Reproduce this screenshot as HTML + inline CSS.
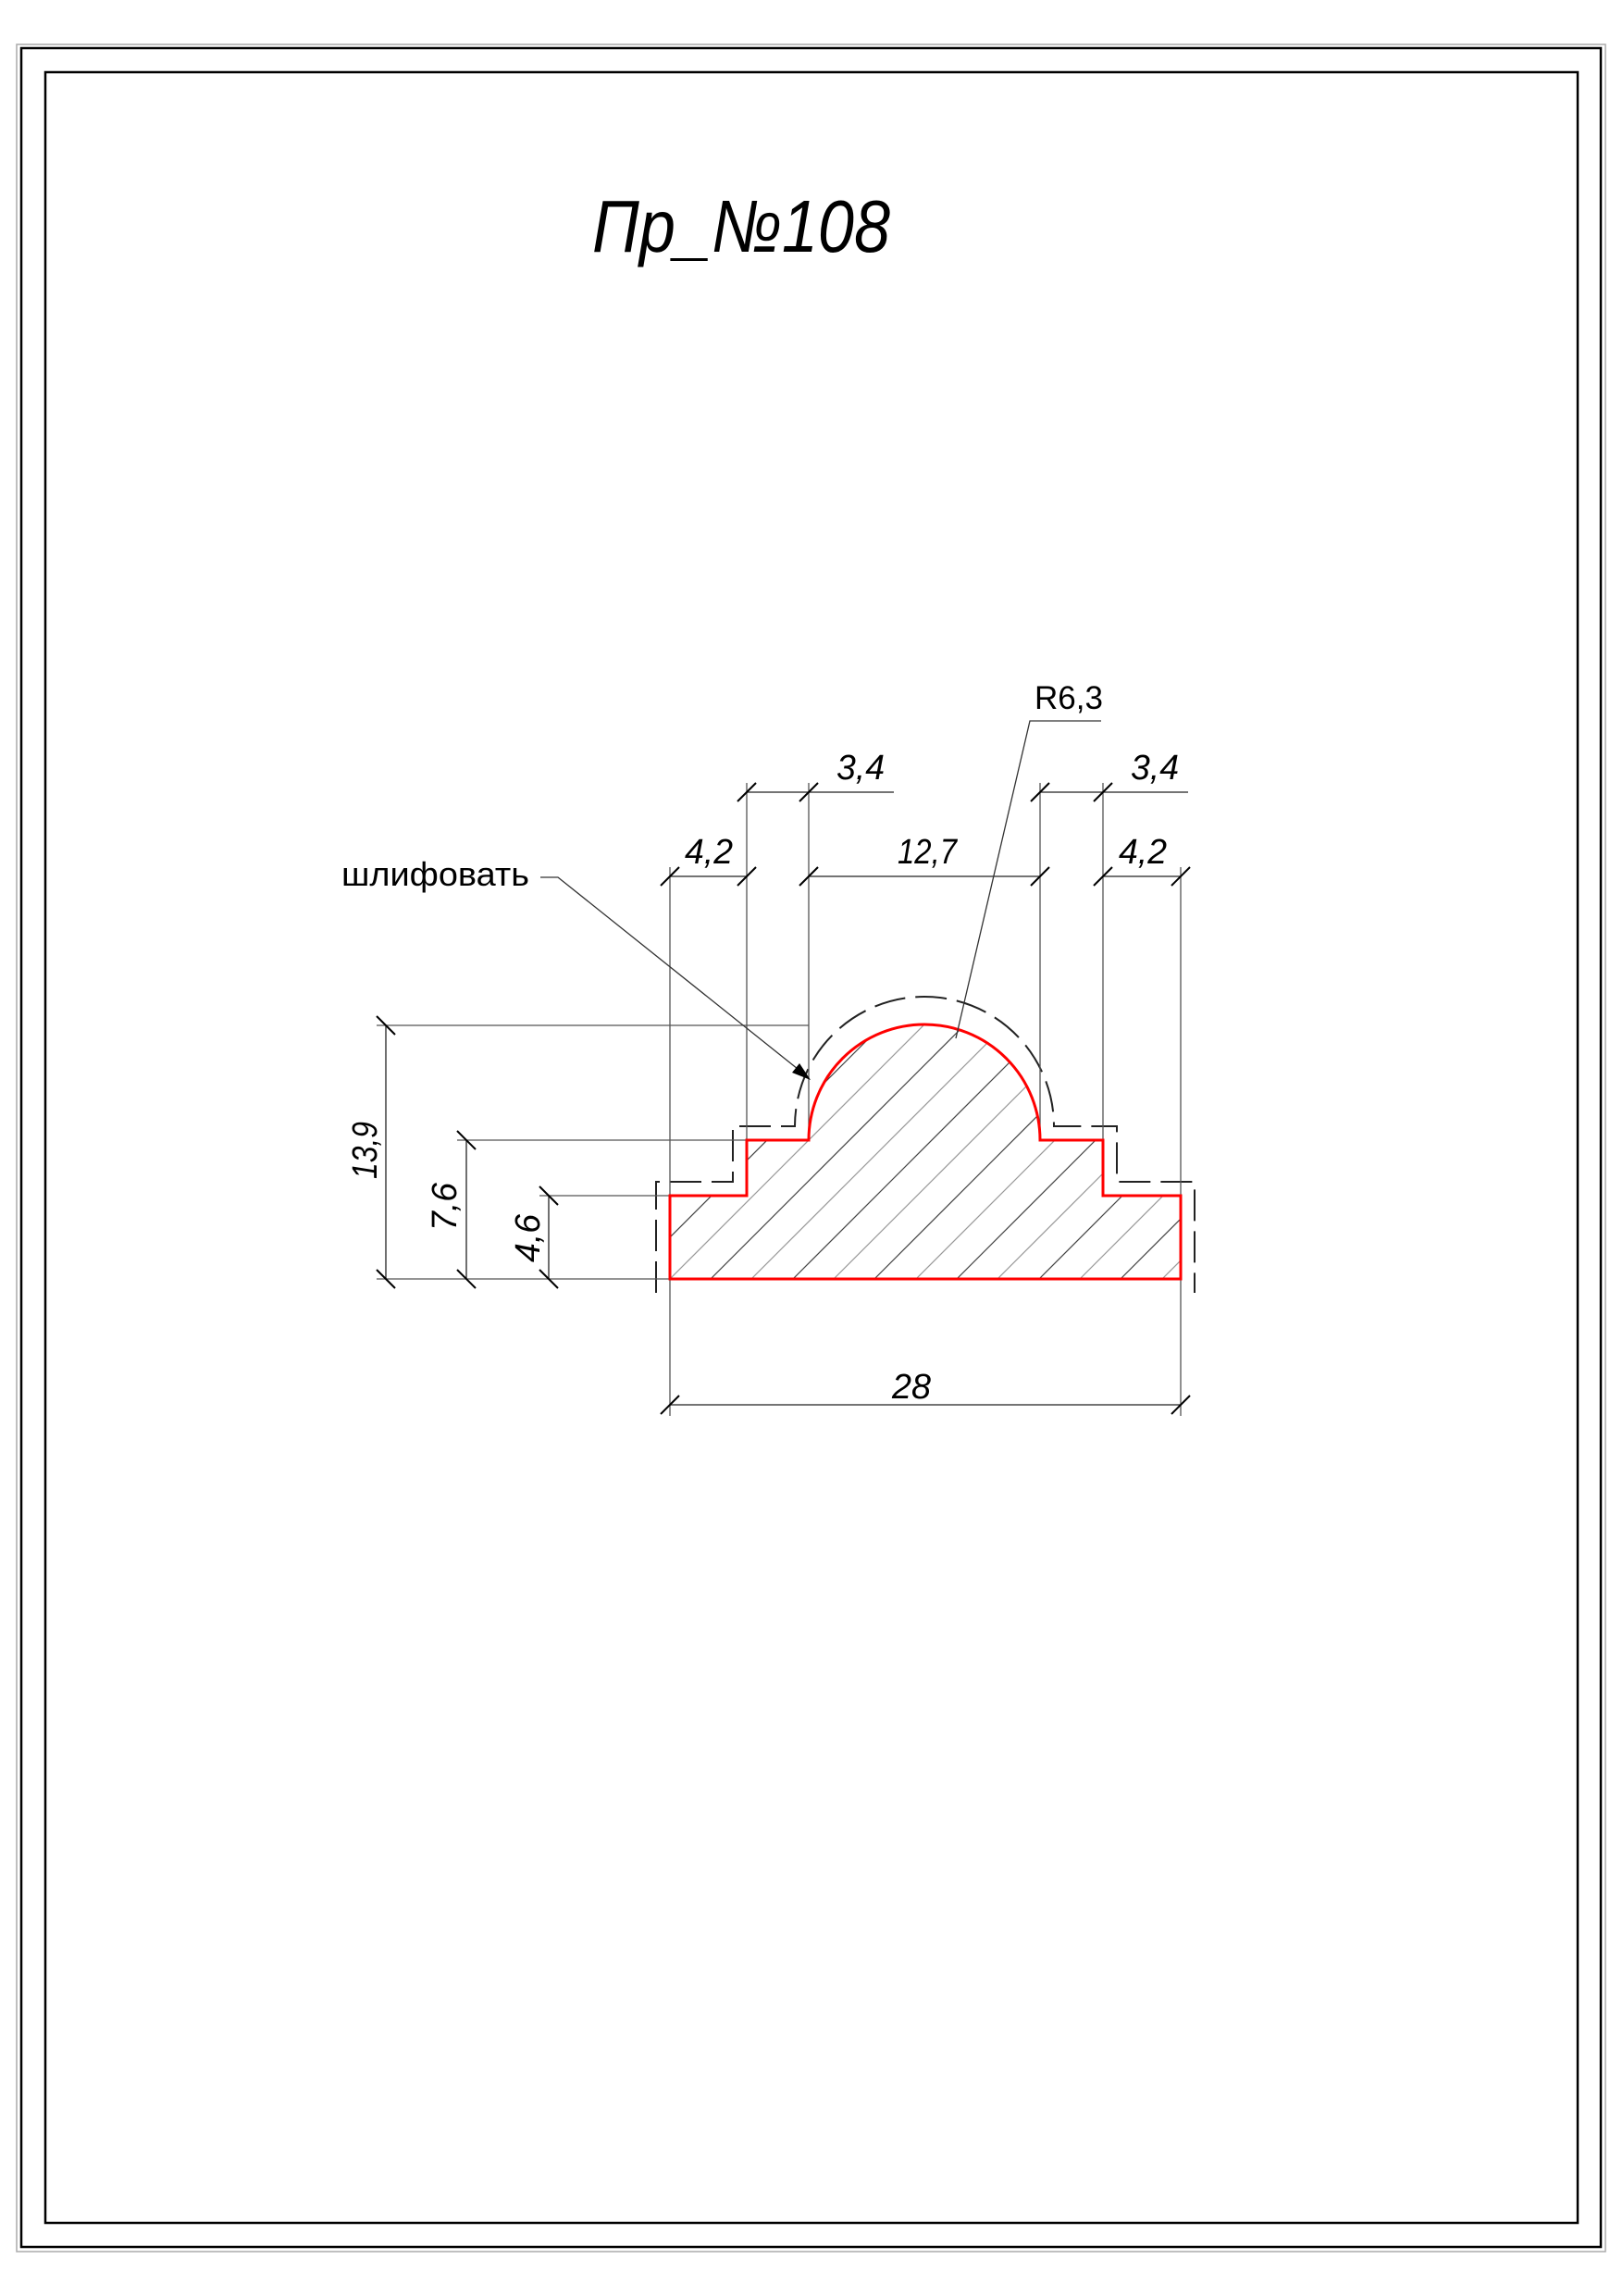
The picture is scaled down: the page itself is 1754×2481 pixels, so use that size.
<!DOCTYPE html>
<html><head><meta charset="utf-8"><style>
html,body{margin:0;padding:0;background:#fff;}
svg{display:block;}
text{font-family:"Liberation Sans","DejaVu Sans",sans-serif;fill:#000;}
</style></head><body>
<svg width="1754" height="2481" viewBox="0 0 1754 2481" xmlns="http://www.w3.org/2000/svg">
<defs>
<clipPath id="prof"><path d="M724,1382 L724,1292 L807,1292 L807,1232 L874,1232 A125,125 0 0 1 1124,1232 L1192,1232 L1192,1292 L1276,1292 L1276,1382 Z"/></clipPath>
</defs>
<rect x="18" y="48" width="1717" height="2385" fill="none" stroke="#aaa" stroke-width="1.5"/>
<rect x="23" y="52" width="1707" height="2376" fill="none" stroke="#000" stroke-width="2.5"/>
<rect x="49" y="78" width="1656" height="2324" fill="none" stroke="#000" stroke-width="2.5"/>

<text x="640" y="272" font-size="80" font-style="italic" textLength="322" lengthAdjust="spacingAndGlyphs">Пр_№108</text>

<g clip-path="url(#prof)" stroke-width="1.2">
<line x1="600" y1="1416" x2="1300" y2="716" stroke="#999"/>
<line x1="600" y1="1461" x2="1300" y2="761" stroke="#444"/>
<line x1="600" y1="1506" x2="1300" y2="806" stroke="#999"/>
<line x1="600" y1="1550" x2="1300" y2="850" stroke="#444"/>
<line x1="600" y1="1594" x2="1300" y2="894" stroke="#999"/>
<line x1="600" y1="1639" x2="1300" y2="939" stroke="#444"/>
<line x1="600" y1="1683" x2="1300" y2="983" stroke="#999"/>
<line x1="600" y1="1727" x2="1300" y2="1027" stroke="#444"/>
<line x1="600" y1="1772" x2="1300" y2="1072" stroke="#999"/>
<line x1="600" y1="1816" x2="1300" y2="1116" stroke="#444"/>
<line x1="600" y1="1860" x2="1300" y2="1160" stroke="#999"/>
<line x1="600" y1="1905" x2="1300" y2="1205" stroke="#444"/>
<line x1="600" y1="1949" x2="1300" y2="1249" stroke="#999"/>
<line x1="600" y1="1993" x2="1300" y2="1293" stroke="#444"/>
<line x1="600" y1="2038" x2="1300" y2="1338" stroke="#999"/>
<line x1="600" y1="2082" x2="1300" y2="1382" stroke="#444"/>
</g>

<path d="M709,1397 L709,1277 L792,1277 L792,1217 L859,1217 A140,140 0 0 1 1139,1217 L1207,1217 L1207,1277 L1291,1277 L1291,1397" fill="none" stroke="#222" stroke-width="2" stroke-dasharray="34 11"/>

<g stroke="#555" stroke-width="1.3" fill="none">
<line x1="724" y1="937" x2="724" y2="1530"/>
<line x1="1276" y1="937" x2="1276" y2="1530"/>
<line x1="807" y1="846" x2="807" y2="1292"/>
<line x1="874" y1="846" x2="874" y2="1232"/>
<line x1="1124" y1="846" x2="1124" y2="1232"/>
<line x1="1192" y1="846" x2="1192" y2="1292"/>
<line x1="407" y1="1108" x2="874" y2="1108"/>
<line x1="494" y1="1232" x2="807" y2="1232"/>
<line x1="583" y1="1292" x2="724" y2="1292"/>
<line x1="407" y1="1382" x2="724" y2="1382"/>
</g>

<g stroke="#222" stroke-width="1.3" fill="none">
<line x1="724" y1="947" x2="807" y2="947"/>
<line x1="874" y1="947" x2="1124" y2="947"/>
<line x1="1192" y1="947" x2="1276" y2="947"/>
<line x1="807" y1="856" x2="966" y2="856"/>
<line x1="1124" y1="856" x2="1284" y2="856"/>
<line x1="724" y1="1518" x2="1276" y2="1518"/>
<line x1="417" y1="1108" x2="417" y2="1382"/>
<line x1="504" y1="1232" x2="504" y2="1382"/>
<line x1="593" y1="1292" x2="593" y2="1382"/>
</g>

<g stroke="#000" stroke-width="2">
<line x1="714" y1="957" x2="734" y2="937"/><line x1="797" y1="957" x2="817" y2="937"/>
<line x1="864" y1="957" x2="884" y2="937"/><line x1="1114" y1="957" x2="1134" y2="937"/>
<line x1="1182" y1="957" x2="1202" y2="937"/><line x1="1266" y1="957" x2="1286" y2="937"/>
<line x1="797" y1="866" x2="817" y2="846"/><line x1="864" y1="866" x2="884" y2="846"/>
<line x1="1114" y1="866" x2="1134" y2="846"/><line x1="1182" y1="866" x2="1202" y2="846"/>
<line x1="714" y1="1528" x2="734" y2="1508"/><line x1="1266" y1="1528" x2="1286" y2="1508"/>
<line x1="407" y1="1098" x2="427" y2="1118"/><line x1="407" y1="1372" x2="427" y2="1392"/>
<line x1="494" y1="1222" x2="514" y2="1242"/><line x1="494" y1="1372" x2="514" y2="1392"/>
<line x1="583" y1="1282" x2="603" y2="1302"/><line x1="583" y1="1372" x2="603" y2="1392"/>
</g>

<path d="M724,1382 L724,1292 L807,1292 L807,1232 L874,1232 A125,125 0 0 1 1124,1232 L1192,1232 L1192,1292 L1276,1292 L1276,1382 Z" fill="none" stroke="#f00" stroke-width="3"/>

<g font-size="38" font-style="italic">
<text x="740" y="933" textLength="52" lengthAdjust="spacingAndGlyphs">4,2</text>
<text x="970" y="933" textLength="64" lengthAdjust="spacingAndGlyphs">12,7</text>
<text x="1209" y="933" textLength="52" lengthAdjust="spacingAndGlyphs">4,2</text>
<text x="904" y="842" textLength="52" lengthAdjust="spacingAndGlyphs">3,4</text>
<text x="1222" y="842" textLength="52" lengthAdjust="spacingAndGlyphs">3,4</text>
<text x="964" y="1511" textLength="42" lengthAdjust="spacingAndGlyphs">28</text>
<text transform="translate(407,1274) rotate(-90)" textLength="62" lengthAdjust="spacingAndGlyphs">13,9</text>
<text transform="translate(493,1330) rotate(-90)" textLength="52" lengthAdjust="spacingAndGlyphs">7,6</text>
<text transform="translate(583,1364) rotate(-90)" textLength="52" lengthAdjust="spacingAndGlyphs">4,6</text>
</g>

<text x="1118" y="766" font-size="35" textLength="74" lengthAdjust="spacingAndGlyphs">R6,3</text>
<polyline points="1190,779 1113,779 1033,1122" fill="none" stroke="#333" stroke-width="1.3"/>

<text x="369" y="957" font-size="36" textLength="203" lengthAdjust="spacingAndGlyphs">шлифовать</text>
<polyline points="584,948 603,948 872,1163" fill="none" stroke="#333" stroke-width="1.3"/>
<path d="M876,1167 L856,1159 L864,1149 Z" fill="#000"/>
</svg>
</body></html>
